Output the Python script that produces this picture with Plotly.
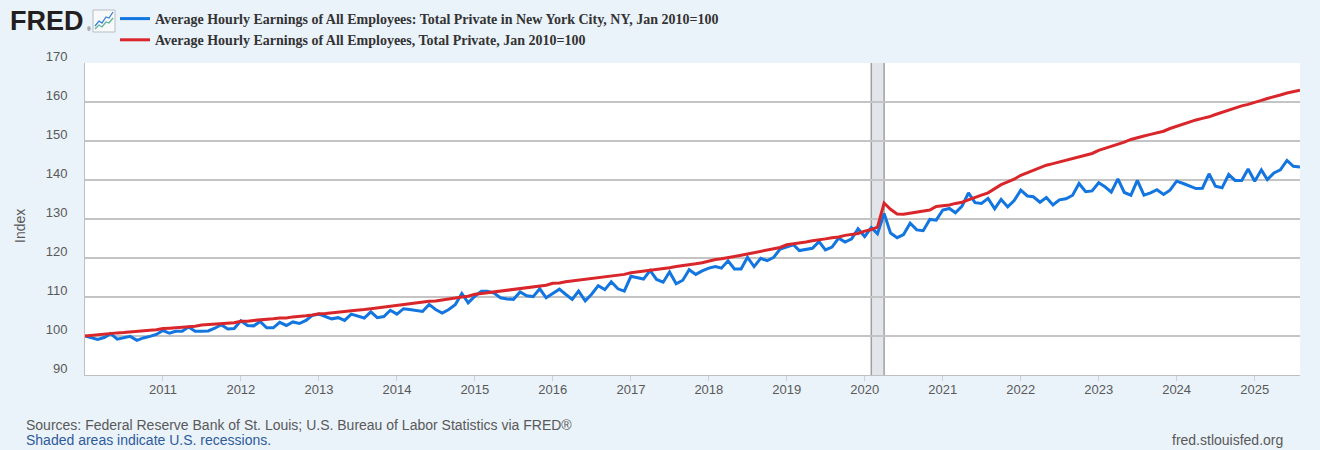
import pandas as pd
import plotly.graph_objects as go

# --- Data (monthly, Jan 2010 = 100) ---
start_month = "2010-01-01"

nyc_index = [
    100.0, 99.5, 99.1, 99.6, 100.6, 99.2, 99.5, 99.9, 98.9, 99.5, 99.9, 100.4,         # 2010
    101.4, 100.7, 101.2, 101.2, 102.3, 101.2, 101.2, 101.3, 102.0, 102.9, 101.8, 101.9,  # 2011
    103.9, 102.7, 102.6, 103.7, 102.1, 102.1, 103.5, 102.7, 103.6, 103.2, 104.0, 105.3,  # 2012
    105.6, 105.0, 104.4, 104.7, 104.0, 105.6, 105.2, 104.6, 106.2, 104.7, 105.0, 106.6,  # 2013
    105.6, 107.0, 106.8, 106.6, 106.3, 108.1, 106.8, 105.9, 106.8, 108.0, 110.9, 108.5,  # 2014
    110.2, 111.5, 111.5, 111.0, 109.8, 109.5, 109.4, 111.3, 110.3, 110.1, 112.1, 109.8,  # 2015
    110.9, 112.0, 110.7, 109.4, 111.5, 109.0, 110.7, 112.9, 111.9, 113.9, 112.1, 111.5,  # 2016
    115.3, 115.0, 114.6, 116.8, 114.5, 113.8, 116.4, 113.4, 114.3, 117.0, 115.8, 116.7,  # 2017
    117.4, 117.8, 117.4, 119.3, 117.2, 117.2, 120.2, 117.8, 119.9, 119.3, 120.2, 122.3,  # 2018
    122.8, 123.4, 121.9, 122.3, 122.5, 124.2, 122.1, 122.8, 125.1, 124.1, 124.9, 127.5,  # 2019
    125.5, 127.8, 126.2, 131.4, 126.4, 125.2, 126.0, 128.9, 127.2, 127.0, 129.9, 129.7,  # 2020
    132.3, 132.7, 131.6, 133.3, 136.7, 134.2, 134.0, 135.3, 132.6, 135.0, 133.1, 134.7,  # 2021
    137.4, 135.9, 135.7, 134.3, 135.5, 133.6, 134.9, 135.2, 136.1, 139.1, 137.0, 137.2,  # 2022
    139.3, 138.2, 136.9, 140.3, 136.8, 136.1, 139.9, 136.1, 136.7, 137.5, 136.3, 137.4,  # 2023
    139.7, 139.1, 138.4, 137.8, 137.9, 141.6, 138.4, 138.0, 141.4, 139.9, 139.9, 142.8,  # 2024
    139.7, 142.6, 140.1, 141.8, 142.6, 145.0, 143.5, 143.3,                              # 2025
]

us_index = [
    100.0, 100.2, 100.3, 100.4, 100.6, 100.8, 100.9, 101.1, 101.2, 101.4, 101.5, 101.6,  # 2010
    101.9, 102.0, 102.1, 102.3, 102.5, 102.5, 102.8, 102.9, 103.0, 103.2, 103.3, 103.4,  # 2011
    103.8, 103.8, 104.0, 104.1, 104.3, 104.4, 104.6, 104.6, 104.9, 105.0, 105.2, 105.4,  # 2012
    105.7, 105.8, 105.9, 106.1, 106.3, 106.5, 106.6, 106.8, 107.0, 107.2, 107.4, 107.6,  # 2013
    108.0, 108.2, 108.3, 108.5, 108.7, 108.9, 109.0, 109.3, 109.5, 109.8, 110.0, 110.2,  # 2014
    110.7, 110.9, 111.1, 111.3, 111.5, 111.6, 111.8, 112.1, 112.3, 112.6, 112.8, 113.0,  # 2015
    113.5, 113.6, 113.9, 114.1, 114.3, 114.5, 114.7, 114.9, 115.2, 115.4, 115.6, 115.8,  # 2016
    116.2, 116.4, 116.6, 116.8, 117.0, 117.3, 117.5, 117.8, 118.0, 118.2, 118.5, 118.8,  # 2017
    119.3, 119.6, 119.8, 120.2, 120.4, 120.7, 121.0, 121.4, 121.7, 122.0, 122.3, 122.7,  # 2018
    123.4, 123.6, 123.9, 124.1, 124.4, 124.6, 124.9, 125.2, 125.4, 125.8, 126.0, 126.3,  # 2019
    126.9, 127.3, 127.9, 134.1, 132.5, 131.3, 131.2, 131.5, 131.7, 131.9, 132.3, 133.2,  # 2020
    133.4, 133.6, 134.0, 134.3, 134.9, 135.6, 136.1, 136.7, 137.7, 138.8, 139.5, 140.2,  # 2021
    141.2, 141.9, 142.6, 143.3, 143.8, 144.2, 144.6, 145.0, 145.5, 145.9, 146.3, 146.8,  # 2022
    147.6, 148.1, 148.6, 149.1, 149.7, 150.4, 150.9, 151.3, 151.7, 152.0, 152.5, 153.2,  # 2023
    153.8, 154.3, 154.9, 155.4, 155.8, 156.2, 156.8, 157.4, 158.0, 158.6, 159.0, 159.4,  # 2024
    160.0, 160.4, 160.9, 161.3, 161.8, 162.3, 162.6, 163.0,                              # 2025
]

tick_years = list(range(2011, 2026))
recession = ("2020-02-01", "2020-04-01")

nyc_name = "Average Hourly Earnings of All Employees: Total Private in New York City, NY, Jan 2010=100"
us_name = "Average Hourly Earnings of All Employees, Total Private, Jan 2010=100"

dates = pd.date_range(start_month, periods=len(nyc_index), freq="MS")

# --- Layout geometry (pixels) ---
W, H = 1320, 450
L, R, T, B = 85, 20, 63, 75
PW, PH = W - L - R, H - T - B


def px(x):
    return (x - L) / PW


def py(y):
    return (H - B - y) / PH


BG = "#eaf2fa"
GRAY = "#595959"

fig = go.Figure()
fig.add_trace(go.Scatter(x=dates, y=nyc_index, name="<b>" + nyc_name + "</b>",
                         mode="lines", line=dict(color="#1275e0", width=3)))
fig.add_trace(go.Scatter(x=dates, y=us_index, name="<b>" + us_name + "</b>",
                         mode="lines", line=dict(color="#d9262b", width=3)))

# recession shading
fig.add_shape(type="rect", xref="x", yref="paper", x0=recession[0], x1=recession[1],
              y0=0, y1=1, fillcolor="#e2e6ea", line=dict(width=0), layer="below")
for edge in recession:
    fig.add_shape(type="line", xref="x", yref="paper", x0=edge, x1=edge, y0=0, y1=1,
                  line=dict(color="#a0a0a0", width=1.5), layer="below")

# small FRED chart icon
fig.add_shape(type="rect", xref="paper", yref="paper", x0=px(93), x1=px(115),
              y0=py(32), y1=py(10), fillcolor="#f7f9fb", line=dict(color="#b8bec6", width=1))
icon_blue = [(95, 26), (99, 21), (102, 23), (106, 17), (109, 18), (113, 12)]
icon_green = [(95, 29), (99, 25), (102, 27), (106, 22), (109, 23), (113, 18)]
for pts, col in ((icon_blue, "#3b7fd9"), (icon_green, "#5fb59a")):
    path = "M " + " L ".join(f"{px(a):.5f},{py(b):.5f}" for a, b in pts)
    fig.add_shape(type="path", xref="paper", yref="paper", path=path,
                  line=dict(color=col, width=1.3))

fig.update_layout(
    width=W, height=H,
    margin=dict(l=L, r=R, t=T, b=B, autoexpand=False),
    paper_bgcolor=BG, plot_bgcolor="white",
    font=dict(family="Liberation Sans, Arial, sans-serif", size=13, color=GRAY),
    showlegend=True,
    legend=dict(x=px(115), y=py(3), xanchor="left", yanchor="top",
                bgcolor="rgba(0,0,0,0)", itemwidth=30, tracegroupgap=0,
                font=dict(family="Liberation Serif, Times New Roman, serif", size=14, color="#333333")),
    annotations=[
        dict(text="<b>FRED</b>", x=px(8), y=py(21), xref="paper", yref="paper",
             xanchor="left", yanchor="middle", showarrow=False,
             font=dict(family="Liberation Sans, Arial, sans-serif", size=27, color="#231f20")),
        dict(text="®", x=px(85), y=py(29), xref="paper", yref="paper",
             xanchor="left", yanchor="middle", showarrow=False,
             font=dict(size=5, color="#231f20")),
        dict(text="Index", x=px(20), y=py(226), xref="paper", yref="paper", textangle=-90,
             xanchor="center", yanchor="middle", showarrow=False,
             font=dict(size=14, color=GRAY)),
        dict(text="Sources: Federal Reserve Bank of St. Louis; U.S. Bureau of Labor Statistics via FRED®",
             x=px(24), y=py(425), xref="paper", yref="paper", xanchor="left", yanchor="middle",
             showarrow=False, font=dict(size=14, color=GRAY)),
        dict(text="Shaded areas indicate U.S. recessions.",
             x=px(24), y=py(440), xref="paper", yref="paper", xanchor="left", yanchor="middle",
             showarrow=False, font=dict(size=14, color="#2e5c9a")),
        dict(text="fred.stlouisfed.org",
             x=px(1285), y=py(440), xref="paper", yref="paper", xanchor="right", yanchor="middle",
             showarrow=False, font=dict(size=14, color=GRAY)),
    ],
)

fig.update_xaxes(
    range=[dates[0], dates[-1]],
    tickvals=[f"{y}-01-01" for y in tick_years], ticktext=[str(y) for y in tick_years],
    showgrid=False, showline=True, linecolor="#bfbfbf", linewidth=1,
    ticks="outside", ticklen=5, tickcolor="#d0d0d0", ticklabelstandoff=-3,
    tickfont=dict(size=13, color=GRAY),
)
fig.update_yaxes(
    range=[90, 170], dtick=10, showgrid=True, gridcolor="#c4c4c4", gridwidth=1.5,
    zeroline=False, showline=True, linecolor="#bfbfbf", linewidth=1,
    ticks="", ticklabelstandoff=14, ticklabelshift=-7, tickfont=dict(size=13, color=GRAY),
)

fig.write_html("out.html", config={"displayModeBar": False},
               post_script="document.body.style.margin='0';"
                           "document.body.style.background='" + BG + "';")
